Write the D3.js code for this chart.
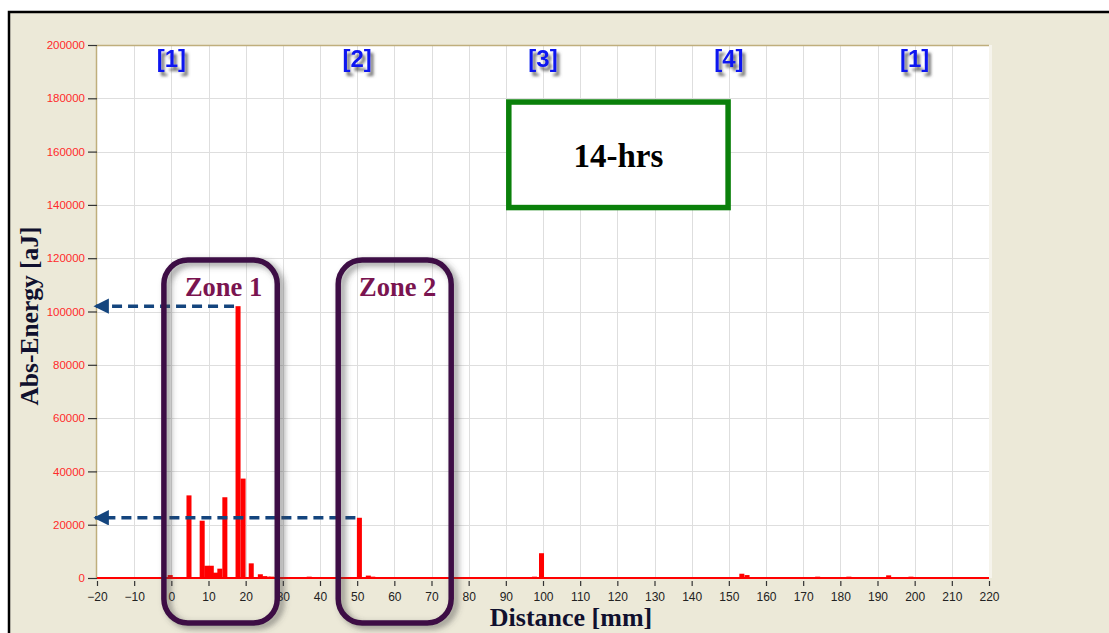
<!DOCTYPE html>
<html>
<head>
<meta charset="utf-8">
<script src="https://cdn.jsdelivr.net/npm/d3@7"></script>
<style>
  html, body { margin: 0; padding: 0; background: #ffffff; }
  svg { display: block; }
</style>
</head>
<body>
<script>
// Located absolute energy per distance bin along the specimen
const distanceMm = [-0.3, 4.75, 8.3, 9.55, 10.75, 11.9, 13.05, 14.4, 17.95, 19.3, 21.5, 23.95, 25.1, 26.0, 27.0,
                    37.1, 50.6, 53.0, 54.2, 97.7, 99.6, 153.5, 154.9, 173.9, 182.3, 193.0, 199.0];
const absEnergy  = [1100, 31000, 21500, 4600, 4600, 2000, 3500, 30300, 102000, 37300, 5500, 1400, 700, 500, 500,
                    500, 22600, 900, 500, 500, 9300, 1600, 1100, 500, 500, 1000, 500];

// Axis ticks
const xTickValues = [-20, -10, 0, 10, 20, 30, 40, 50, 60, 70, 80, 90, 100, 110, 120, 130, 140, 150, 160, 170, 180, 190, 200, 210, 220];
const yTickValues = [0, 20000, 40000, 60000, 80000, 100000, 120000, 140000, 160000, 180000, 200000];

// Sensor channel markers along the top
const channelLabels = ["[1]", "[2]", "[3]", "[4]", "[1]"];
const channelDistance = [0, 50, 100, 150, 200];

// Highlighted zones and the peak energies they contain
const zoneNames = ["Zone 1", "Zone 2"];
const zonePeakEnergy = [102000, 22600];
const zonePeakDistance = [17.95, 50.6];

const W = 1109, H = 633;
const plot = { left: 97, right: 989, top: 45, bottom: 578 };

const svg = d3.select("body").append("svg").attr("width", W).attr("height", H);

const defs = svg.append("defs");
const shLabel = defs.append("filter").attr("id", "labelShadow")
  .attr("x", "-30%").attr("y", "-30%").attr("width", "180%").attr("height", "180%");
shLabel.append("feDropShadow").attr("dx", 3).attr("dy", 4).attr("stdDeviation", 1.6)
  .attr("flood-color", "#555").attr("flood-opacity", 0.85);
const shZone = defs.append("filter").attr("id", "zoneShadow")
  .attr("x", "-20%").attr("y", "-10%").attr("width", "150%").attr("height", "130%");
shZone.append("feDropShadow").attr("dx", 4).attr("dy", 3).attr("stdDeviation", 3)
  .attr("flood-color", "#444").attr("flood-opacity", 0.6);
defs.append("marker").attr("id", "arrowHead")
  .attr("viewBox", "0 0 10 10").attr("refX", 9).attr("refY", 5)
  .attr("markerWidth", 4.4).attr("markerHeight", 4.4).attr("orient", "auto")
  .attr("markerUnits", "strokeWidth")
  .append("path").attr("d", "M0,0 L10,5 L0,10 Z").attr("fill", "#14457e");

// Window frame
svg.append("rect").attr("x", 9).attr("y", 12).attr("width", W + 20).attr("height", H + 20)
  .attr("fill", "#ece9d8").attr("stroke", "#000").attr("stroke-width", 2.5);

const x = d3.scaleLinear().domain([-20, 220]).range([plot.left, plot.right]);
const y = d3.scaleLinear().domain([0, 200000]).range([plot.bottom, plot.top]);

// Plot area
svg.append("rect").attr("x", plot.left).attr("y", plot.top)
  .attr("width", plot.right - plot.left).attr("height", plot.bottom - plot.top)
  .attr("fill", "#ffffff");
svg.append("line").attr("x1", plot.right + 1.5).attr("x2", plot.right + 1.5)
  .attr("y1", plot.top).attr("y2", plot.bottom).attr("stroke", "#f6f4ec").attr("stroke-width", 3);

// Grid
const grid = svg.append("g").attr("stroke", "#dedede").attr("stroke-width", 1);
grid.selectAll(".vg").data(xTickValues.slice(1, -1)).join("line")
  .attr("x1", d => Math.round(x(d)) + 0.5).attr("x2", d => Math.round(x(d)) + 0.5)
  .attr("y1", plot.top).attr("y2", plot.bottom);
grid.selectAll(".hg").data(yTickValues.slice(1, -1)).join("line")
  .attr("y1", d => Math.round(y(d)) + 0.5).attr("y2", d => Math.round(y(d)) + 0.5)
  .attr("x1", plot.left).attr("x2", plot.right);

// Frame lines of the plot
svg.append("line").attr("x1", plot.left).attr("x2", plot.right)
  .attr("y1", plot.top + 0.5).attr("y2", plot.top + 0.5).attr("stroke", "#bfae7c").attr("stroke-width", 1.5);
svg.append("line").attr("x1", plot.left - 0.5).attr("x2", plot.left - 0.5)
  .attr("y1", plot.top).attr("y2", plot.bottom).attr("stroke", "#bfae7c").attr("stroke-width", 1.5);

// Y axis
const yAxis = d3.axisLeft(y).tickValues(yTickValues).tickSize(9).tickPadding(3).tickFormat(d3.format("d"));
const gy = svg.append("g").attr("transform", `translate(${plot.left},0)`).call(yAxis);
gy.select(".domain").remove();
gy.selectAll(".tick line").attr("stroke", "#333").attr("stroke-width", 1.2);
gy.selectAll(".tick text").attr("fill", "#ff2a2a")
  .style("font-family", "'Liberation Sans', Arial, sans-serif").style("font-size", "11.5px");

// X axis
const xAxis = d3.axisBottom(x).tickValues(xTickValues).tickSizeInner(0).tickSizeOuter(0).tickPadding(0).tickFormat(d3.format("d"));
const gx = svg.append("g").attr("transform", `translate(0,${plot.bottom})`).call(xAxis);
gx.select(".domain").remove();
gx.selectAll(".tick line").attr("y1", 3).attr("y2", 8).attr("stroke", "#333").attr("stroke-width", 1.2);
gx.selectAll(".tick text").attr("fill", "#222").attr("y", 14).attr("dy", "0.71em")
  .style("font-family", "'Liberation Sans', Arial, sans-serif").style("font-size", "12px");

// Energy bars
const bins = distanceMm.map((d, i) => ({ d, e: absEnergy[i] }));
const binWidth = 1.35;
svg.append("g").selectAll("rect").data(bins).join("rect")
  .attr("x", b => x(b.d - binWidth / 2))
  .attr("width", x(binWidth) - x(0))
  .attr("y", b => y(b.e))
  .attr("height", b => y(0) - y(b.e))
  .attr("fill", "#ff0000");

// Zero baseline of the series
svg.append("line").attr("x1", plot.left).attr("x2", plot.right)
  .attr("y1", y(0)).attr("y2", y(0)).attr("stroke", "#ff0000").attr("stroke-width", 2);

// Channel markers
svg.append("g").selectAll("text").data(channelLabels).join("text")
  .attr("x", (d, i) => x(channelDistance[i]))
  .attr("y", 67)
  .attr("text-anchor", "middle")
  .attr("fill", "#0a14f0")
  .attr("filter", "url(#labelShadow)")
  .style("font-family", "'Liberation Sans', Arial, sans-serif")
  .style("font-weight", "bold").style("font-size", "24px")
  .text(d => d);

// Test duration box
const boxG = svg.append("g");
boxG.append("rect")
  .attr("x", x(90.8)).attr("y", y(178600))
  .attr("width", x(149.8) - x(90.8)).attr("height", y(139000) - y(178600))
  .attr("fill", "#ffffff").attr("stroke", "#0a800a").attr("stroke-width", 5.5);
boxG.append("text")
  .attr("x", (x(90.8) + x(149.8)) / 2).attr("y", 167)
  .attr("text-anchor", "middle").attr("fill", "#000")
  .style("font-family", "'Liberation Serif', 'Times New Roman', serif")
  .style("font-weight", "bold").style("font-size", "33px")
  .text("14-hrs");

// Peak arrows toward the energy axis
const arrows = svg.append("g");
zonePeakEnergy.forEach((e, i) => {
  arrows.append("line")
    .attr("x1", x(zonePeakDistance[i]) - 4).attr("x2", plot.left - 2)
    .attr("y1", y(e)).attr("y2", y(e))
    .attr("stroke", "#14457e").attr("stroke-width", 3.5)
    .attr("stroke-dasharray", "10,6")
    .attr("marker-end", "url(#arrowHead)");
});

// Zone outlines
const zoneSpan = [[-2.0, 28.5], [44.9, 75.3]];
const zoneTop = 119300, zoneBottom = -16900;
const zones = svg.append("g");
zoneNames.forEach((name, i) => {
  const [a, b] = zoneSpan[i];
  zones.append("rect")
    .attr("x", x(a)).attr("y", y(zoneTop))
    .attr("width", x(b) - x(a)).attr("height", y(zoneBottom) - y(zoneTop))
    .attr("rx", 24).attr("ry", 24)
    .attr("fill", "none").attr("stroke", "#3e0f45").attr("stroke-width", 5.5)
    .attr("filter", "url(#zoneShadow)");
  zones.append("text")
    .attr("x", (x(a) + x(b)) / 2 + 3).attr("y", 296)
    .attr("text-anchor", "middle").attr("fill", "#7a1450")
    .style("font-family", "'Liberation Serif', 'Times New Roman', serif")
    .style("font-weight", "bold").style("font-size", "26.5px")
    .text(name);
});

// Axis titles
svg.append("text")
  .attr("transform", `translate(38,316) rotate(-90)`)
  .attr("text-anchor", "middle").attr("fill", "#10102e")
  .style("font-family", "'Liberation Serif', 'Times New Roman', serif")
  .style("font-weight", "bold").style("font-size", "25.5px")
  .text("Abs-Energy [aJ]");
svg.append("text")
  .attr("x", 571).attr("y", 626)
  .attr("text-anchor", "middle").attr("fill", "#10102e")
  .style("font-family", "'Liberation Serif', 'Times New Roman', serif")
  .style("font-weight", "bold").style("font-size", "26px")
  .text("Distance [mm]");
</script>
</body>
</html>
